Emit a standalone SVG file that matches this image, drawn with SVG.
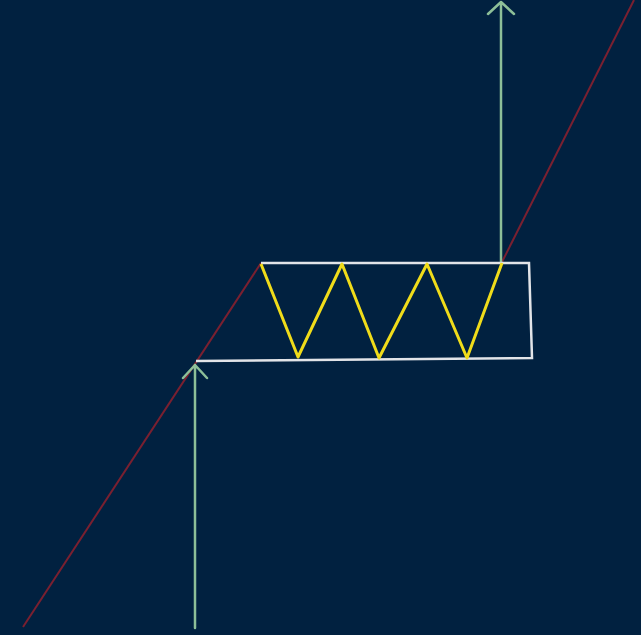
<svg xmlns="http://www.w3.org/2000/svg" width="641" height="635" viewBox="0 0 641 635">
<style>
.red{stroke:#7a2030;stroke-width:2;fill:none}
.grn{stroke:#8dbf98;stroke-width:2.5;fill:none;stroke-linecap:round;stroke-linejoin:round}
.wht{stroke:#e2e4e8;stroke-width:2.5;fill:none}
.yel{stroke:#f0dc1a;stroke-width:3;fill:none;stroke-linejoin:round}
</style>
<rect width="641" height="635" fill="#012140"/>
<g id="connectors">
<path class="red" d="M23,627 L261,263"/>
<path class="red" d="M502,262 L634,0"/>
<path class="grn" d="M195,628 L195,365 M183,378 L195,365 L207,378"/>
<path class="grn" d="M501,262 L501,2 M488,14 L501,2 L514,14"/>
</g>
<g id="frame">
<path class="wht" d="M261,263 L529,263 L532,358 L196,361"/>
</g>
<g id="zigzag">
<path class="yel" d="M261,264 L298,357 L342,264 L379,358 L427,264 L467,358 L502,263"/>
</g>
</svg>
